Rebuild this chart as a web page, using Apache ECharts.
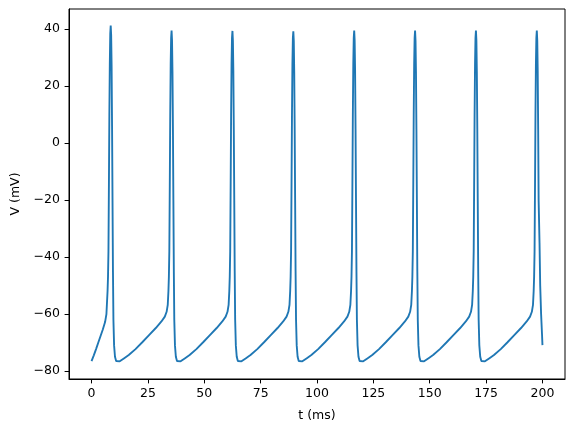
<!DOCTYPE html>
<html>
<head>
<meta charset="utf-8">
<script src="https://cdn.jsdelivr.net/npm/echarts@6/dist/echarts.min.js"></script>
<style>
html,body{margin:0;padding:0;background:#fff;}
#chart{width:574px;height:432px;}
</style>
</head>
<body>
<div id="chart"></div>
<script>
// Membrane potential trace, [t (ms), V (mV)], one array per firing cycle
const cycle1 = [[0,-76.5],[1,-74.5],[2,-72.3],[3,-70.0],[4,-67.7],[5,-65.4],[6,-62.8],[6.6,-60.0],[7.1,-52],[7.3,-47],[7.5,-38],[7.7,-15],[7.9,10],[8.1,28],[8.3,38.5],[8.5,41.3],[8.7,38],[8.9,27],[9.1,6],[9.3,-20],[9.5,-45],[9.7,-62],[10.0,-71],[10.4,-75],[10.9,-76.5],[11.5,-76.8]];
const cycle2 = [[12.5,-76.6],[14.5,-75.5],[16.5,-74.4],[19.5,-72.3],[22.5,-69.9],[25.5,-67.4],[28.5,-64.9],[31.0,-62.6],[32.5,-60.9],[33.3,-59.2],[33.8,-56.8],[34.1,-52],[34.3,-47],[34.5,-38],[34.7,-15],[34.9,10],[35.1,28],[35.3,37],[35.5,39.5],[35.7,36],[35.9,25],[36.1,5],[36.3,-20],[36.5,-45],[36.7,-62],[37.0,-71],[37.4,-75],[37.9,-76.5],[38.5,-76.8]];
const cycle3 = [[39.5,-76.6],[41.5,-75.5],[43.5,-74.4],[46.5,-72.3],[49.5,-69.9],[52.5,-67.4],[55.5,-64.9],[58.0,-62.6],[59.5,-60.9],[60.3,-59.2],[60.8,-56.8],[61.1,-52],[61.3,-47],[61.5,-38],[61.7,-15],[61.9,10],[62.1,28],[62.3,37],[62.5,39.4],[62.7,36],[62.9,25],[63.1,5],[63.3,-20],[63.5,-45],[63.7,-62],[64.0,-71],[64.4,-75],[64.9,-76.5],[65.5,-76.8]];
const cycle4 = [[66.5,-76.6],[68.5,-75.5],[70.5,-74.4],[73.5,-72.3],[76.5,-69.9],[79.5,-67.4],[82.5,-64.9],[85.0,-62.6],[86.5,-60.9],[87.3,-59.2],[87.8,-56.8],[88.1,-52],[88.3,-47],[88.5,-38],[88.7,-15],[88.9,10],[89.1,28],[89.3,37],[89.5,39.3],[89.7,36],[89.9,25],[90.1,5],[90.3,-20],[90.5,-45],[90.7,-62],[91.0,-71],[91.4,-75],[91.9,-76.5],[92.5,-76.8]];
const cycle5 = [[93.5,-76.6],[95.5,-75.5],[97.5,-74.4],[100.5,-72.3],[103.5,-69.9],[106.5,-67.4],[109.5,-64.9],[112.0,-62.6],[113.5,-60.9],[114.3,-59.2],[114.8,-56.8],[115.1,-52],[115.3,-47],[115.5,-38],[115.7,-15],[115.9,10],[116.1,28],[116.3,37],[116.5,39.5],[116.7,36],[116.9,25],[117.1,5],[117.3,-20],[117.5,-45],[117.7,-62],[118.0,-71],[118.4,-75],[118.9,-76.5],[119.5,-76.8]];
const cycle6 = [[120.5,-76.6],[122.5,-75.5],[124.5,-74.4],[127.5,-72.3],[130.5,-69.9],[133.5,-67.4],[136.5,-64.9],[139.0,-62.6],[140.5,-60.9],[141.3,-59.2],[141.8,-56.8],[142.1,-52],[142.3,-47],[142.5,-38],[142.7,-15],[142.9,10],[143.1,28],[143.3,37],[143.5,39.5],[143.7,36],[143.9,25],[144.1,5],[144.3,-20],[144.5,-45],[144.7,-62],[145.0,-71],[145.4,-75],[145.9,-76.5],[146.5,-76.8]];
const cycle7 = [[147.5,-76.6],[149.5,-75.5],[151.5,-74.4],[154.5,-72.3],[157.5,-69.9],[160.5,-67.4],[163.5,-64.9],[166.0,-62.6],[167.5,-60.9],[168.3,-59.2],[168.8,-56.8],[169.1,-52],[169.3,-47],[169.5,-38],[169.7,-15],[169.9,10],[170.1,28],[170.3,37],[170.5,39.5],[170.7,36],[170.9,25],[171.1,5],[171.3,-20],[171.5,-45],[171.7,-62],[172.0,-71],[172.4,-75],[172.9,-76.5],[173.5,-76.8]];
const cycle8 = [[174.5,-76.6],[176.5,-75.5],[178.5,-74.4],[181.5,-72.3],[184.5,-69.9],[187.5,-67.4],[190.5,-64.9],[193.0,-62.6],[194.5,-60.9],[195.3,-59.2],[195.8,-56.8],[196.1,-52],[196.3,-47],[196.5,-38],[196.7,-15],[196.9,10],[197.1,28],[197.3,37],[197.5,39.5],[197.7,36],[197.9,25],[198.1,5],[198.3,-20],[198.7,-35],[199.0,-50],[199.4,-60],[199.8,-67],[200.0,-70.9]];

const xTicks = [0, 25, 50, 75, 100, 125, 150, 175, 200];
const yTicks = [-80, -60, -40, -20, 0, 20, 40];
const xLabel = 't (ms)';
const yLabel = 'V (mV)';

const trace = [].concat(cycle1, cycle2, cycle3, cycle4, cycle5, cycle6, cycle7, cycle8);

const FONT = 'DejaVu Sans';
const fmt = v => String(v).replace('-', '\u2212');

const chart = echarts.init(document.getElementById('chart'), null, {renderer: 'canvas'});
chart.setOption({
  animation: false,
  backgroundColor: '#ffffff',
  grid: {left: 69, right: 9, top: 9, bottom: 53, show: true, borderColor: '#000', borderWidth: 1, backgroundColor: 'transparent'},
  xAxis: {
    type: 'value', min: -10, max: 210,
    name: xLabel, nameLocation: 'middle', nameGap: 30,
    nameTextStyle: {fontFamily: FONT, fontSize: 12.5, color: '#000'},
    axisLine: {show: true, onZero: false, lineStyle: {color: '#000', width: 1}},
    axisTick: {show: true, length: 4.4, inside: false, customValues: xTicks, lineStyle: {color: '#000', width: 1}},
    axisLabel: {show: true, margin: 8, customValues: xTicks, formatter: fmt, fontFamily: FONT, fontSize: 12.5, color: '#000'},
    splitLine: {show: false}
  },
  yAxis: {
    type: 'value', min: -82.8, max: 47.1,
    name: yLabel, nameLocation: 'middle', nameGap: 46, nameRotate: 90,
    nameTextStyle: {fontFamily: FONT, fontSize: 12.5, color: '#000'},
    axisLine: {show: true, onZero: false, lineStyle: {color: '#000', width: 1}},
    axisTick: {show: true, length: 4.4, inside: false, customValues: yTicks, lineStyle: {color: '#000', width: 1}},
    axisLabel: {show: true, margin: 9, customValues: yTicks, formatter: fmt, fontFamily: FONT, fontSize: 12.5, color: '#000'},
    splitLine: {show: false}
  },
  series: [{
    type: 'line', data: trace, showSymbol: false, symbol: 'none',
    lineStyle: {color: '#1f77b4', width: 1.875}, itemStyle: {color: '#1f77b4'}
  }]
});
</script>
</body>
</html>
